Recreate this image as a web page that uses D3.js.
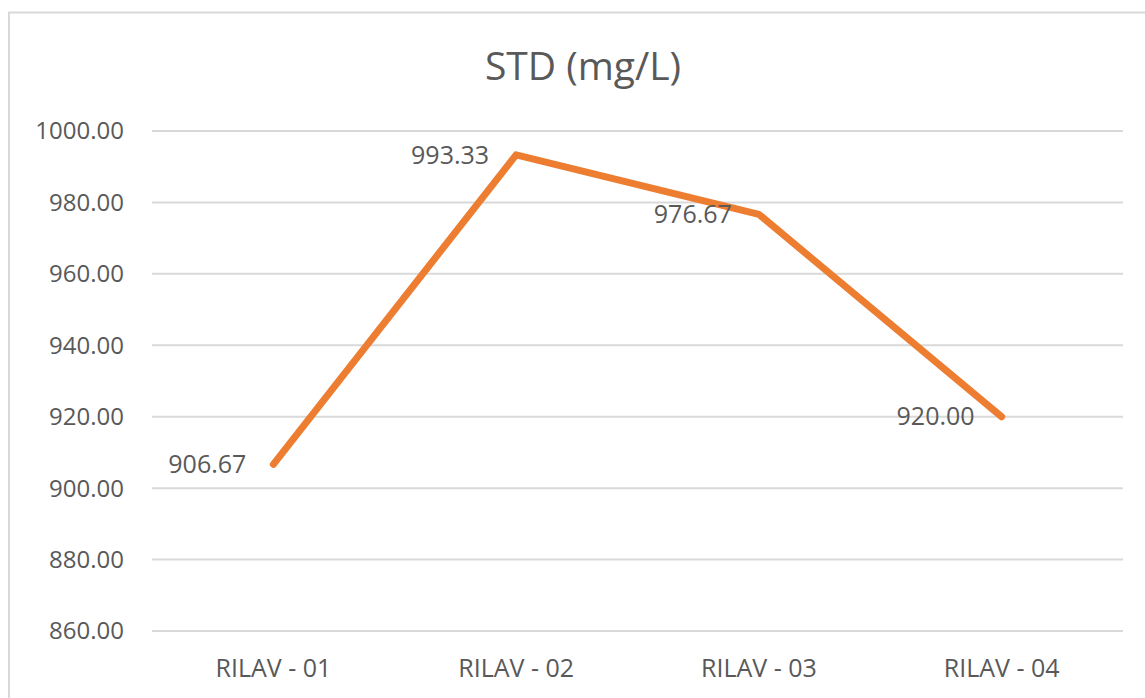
<!DOCTYPE html>
<html>
<head>
<meta charset="utf-8">
<script src="https://cdn.jsdelivr.net/npm/d3@7"></script>
<style>
  body { margin: 0; background: #fff; }
  text { font-family: "Open Sans", sans-serif; fill: #595959; }
</style>
</head>
<body>
<div id="chart"></div>
<script>
var categories = ["RILAV - 01", "RILAV - 02", "RILAV - 03", "RILAV - 04"];
var values = [906.67, 993.33, 976.67, 920.00];
var yTicks = [860, 880, 900, 920, 940, 960, 980, 1000];
var title = "STD (mg/L)";

var width = 1145,
    height = 698;

var svg = d3.select("#chart")
    .append("svg")
    .attr("width", width)
    .attr("height", height);

// chart frame
svg.append("rect")
    .attr("x", 9)
    .attr("y", 12.5)
    .attr("width", width + 20)
    .attr("height", height + 20)
    .attr("fill", "none")
    .attr("stroke", "#d9d9d9")
    .attr("stroke-width", 2);

var x = d3.scalePoint()
    .domain(categories)
    .range([152, 1123])
    .padding(0.5);

var y = d3.scaleLinear()
    .domain([860, 1000])
    .range([631, 131]);

// gridlines
svg.append("g")
    .selectAll("line")
    .data(yTicks)
    .enter().append("line")
    .attr("x1", 152)
    .attr("x2", 1123)
    .attr("y1", function (d) { return y(d); })
    .attr("y2", function (d) { return y(d); })
    .attr("stroke", "#d9d9d9")
    .attr("stroke-width", 2);

// y tick labels
svg.append("g")
    .selectAll("text")
    .data(yTicks)
    .enter().append("text")
    .attr("x", 124)
    .attr("y", function (d) { return y(d); })
    .attr("dy", "0.35em")
    .attr("text-anchor", "end")
    .style("font-size", "24px")
    .text(function (d) { return d3.format(".2f")(d); });

// x labels
svg.append("g")
    .selectAll("text")
    .data(categories)
    .enter().append("text")
    .attr("x", function (d) { return x(d); })
    .attr("y", 668)
    .attr("dy", "0.35em")
    .attr("text-anchor", "middle")
    .style("font-size", "25px")
    .text(function (d) { return d; });

// title
svg.append("text")
    .attr("x", 583)
    .attr("y", 66)
    .attr("dy", "0.35em")
    .attr("text-anchor", "middle")
    .style("font-size", "39px")
    .text(title);

var line = d3.line()
    .x(function (d, i) { return x(categories[i]); })
    .y(function (d) { return y(d); });

svg.append("path")
    .datum(values)
    .attr("d", line)
    .attr("fill", "none")
    .attr("stroke", "#ED7D31")
    .attr("stroke-width", 7)
    .attr("stroke-linecap", "round")
    .attr("stroke-linejoin", "round");

// data labels, to the left of each point
svg.append("g")
    .selectAll("text")
    .data(values)
    .enter().append("text")
    .attr("x", function (d, i) { return x(categories[i]) - 27; })
    .attr("y", function (d) { return y(d); })
    .attr("dy", "0.35em")
    .attr("text-anchor", "end")
    .style("font-size", "25px")
    .text(function (d) { return d3.format(".2f")(d); });
</script>
</body>
</html>
